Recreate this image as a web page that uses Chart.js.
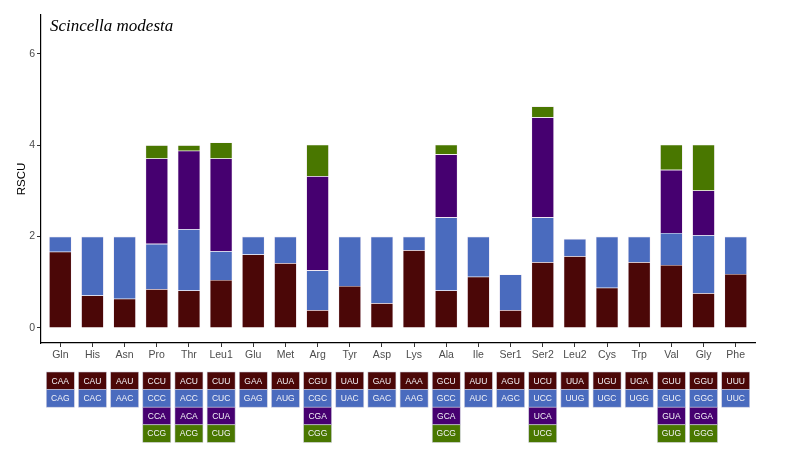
<!DOCTYPE html>
<html>
<head>
<meta charset="utf-8">
<script src="https://cdn.jsdelivr.net/npm/chart.js@4/dist/chart.umd.min.js"></script>
<style>
html,body{margin:0;padding:0;background:#fff;}
#wrap{position:relative;width:789px;height:454px;}
</style>
</head>
<body>
<div id="wrap"><canvas id="c" width="789" height="454"></canvas></div>
<script>
const categories = ["Gln","His","Asn","Pro","Thr","Leu1","Glu","Met","Arg","Tyr","Asp","Lys","Ala","Ile","Ser1","Ser2","Leu2","Cys","Trp","Val","Gly","Phe"];
const codon1 = [1.67,0.71,0.64,0.85,0.82,1.05,1.61,1.42,0.39,0.92,0.54,1.70,0.82,1.12,0.39,1.44,1.57,0.88,1.44,1.38,0.76,1.18];
const codon2 = [0.33,1.29,1.36,0.99,1.34,0.63,0.39,0.58,0.87,1.08,1.46,0.30,1.60,0.88,0.78,0.98,0.38,1.12,0.56,0.70,1.27,0.82];
const codon3 = [null,null,null,1.87,1.72,2.03,null,null,2.06,null,null,null,1.38,null,null,2.19,null,null,null,1.38,0.98,null];
const codon4 = [null,null,null,0.29,0.12,0.35,null,null,0.69,null,null,null,0.21,null,null,0.24,null,null,null,0.55,1.00,null];
const names1 = ["CAA","CAU","AAU","CCU","ACU","CUU","GAA","AUA","CGU","UAU","GAU","AAA","GCU","AUU","AGU","UCU","UUA","UGU","UGA","GUU","GGU","UUU"];
const names2 = ["CAG","CAC","AAC","CCC","ACC","CUC","GAG","AUG","CGC","UAC","GAC","AAG","GCC","AUC","AGC","UCC","UUG","UGC","UGG","GUC","GGC","UUC"];
const names3 = ["","","","CCA","ACA","CUA","","","CGA","","","","GCA","","","UCA","","","","GUA","GGA",""];
const names4 = ["","","","CCG","ACG","CUG","","","CGG","","","","GCG","","","UCG","","","","GUG","GGG",""];
const yTicks = [0,2,4,6];
const title = "Scincella modesta";

const colors = ["#4b0707","#4a6bbe","#460070","#497700"];
const seriesVals = [codon1, codon2, codon3, codon4];
const seriesNames = [names1, names2, names3, names4];
const narrow = '"Liberation Sans Narrow", "Arial Narrow", "Liberation Sans", Arial, sans-serif';

const toPts = arr => arr.map((v,i)=>({x:i,y:v}));

const codonTable = {
  id:'codonTable',
  afterDraw(chart){
    const ctx = chart.ctx;
    const xs = chart.scales.x;
    const boxW = 28, rowH = 17.6, top0 = 372;
    ctx.save();
    ctx.font = '8.5px ' + narrow;
    ctx.textAlign = 'center';
    ctx.textBaseline = 'middle';
    for (let r=0;r<4;r++){
      const names = seriesNames[r];
      for (let i=0;i<categories.length;i++){
        if (!names[i]) continue;
        const cx = xs.getPixelForValue(i);
        const y = top0 + r*rowH;
        ctx.fillStyle = colors[r];
        ctx.fillRect(cx-boxW/2, y, boxW, rowH);
        ctx.strokeStyle = 'rgba(210,210,225,0.9)';
        ctx.lineWidth = 0.6;
        ctx.strokeRect(cx-boxW/2, y, boxW, rowH);
        ctx.fillStyle = '#f4f4f8';
        ctx.fillText(names[i], cx, y+rowH/2+0.5);
      }
    }
    ctx.restore();
  }
};

const titlePlugin = {
  id:'titleText',
  afterDraw(chart){
    const ctx = chart.ctx, a = chart.chartArea;
    ctx.save();
    ctx.font = 'italic 17px "Liberation Serif", "Times New Roman", serif';
    ctx.fillStyle = '#000';
    ctx.textAlign = 'left';
    ctx.textBaseline = 'middle';
    ctx.fillText(title, a.left+9, a.top+12);
    ctx.restore();
  }
};

new Chart(document.getElementById('c'), {
  type:'bar',
  data:{
    datasets: seriesVals.map((vals,k)=>({
      label:'codon'+(k+1),
      data: toPts(vals),
      backgroundColor: colors[k],
      borderColor: 'rgba(235,220,235,0.8)',
      borderWidth: 0.6,
      barPercentage: 0.7,
      categoryPercentage: 1.0,
      stack:'s'
    }))
  },
  options:{
    responsive:false,
    animation:false,
    devicePixelRatio:1,
    layout:{padding:{top:15,right:34,left:0,bottom:0}},
    plugins:{legend:{display:false},tooltip:{enabled:false},title:{display:false}},
    scales:{
      x:{
        type:'linear',
        stacked:true,
        offset:false,
        min:-0.6, max:categories.length-1+0.6,
        afterBuildTicks(s){ s.ticks = categories.map((c,i)=>({value:i})); },
        afterFit(s){ s.height = 111; },
        grid:{offset:false, drawOnChartArea:false, drawTicks:true, tickLength:4, color:'#333', tickWidth:1},
        border:{display:true, color:'#000', width:1.2},
        ticks:{
          autoSkip:false, maxRotation:0, padding:2,
          color:'#4d4d4d',
          font:{family:narrow, size:10.5},
          callback:(v)=> categories[Math.round(v)] ?? ''
        }
      },
      y:{
        stacked:true,
        min:-0.33, max:6.85,
        afterBuildTicks(s){ s.ticks = yTicks.map(v=>({value:v})); },
        afterFit(s){ s.width = 41; },
        grid:{drawOnChartArea:false, drawTicks:true, tickLength:4, color:'#333'},
        border:{display:true, color:'#000', width:1.2},
        title:{display:true, text:'RSCU', color:'#000', font:{family:'"Liberation Sans", Arial, sans-serif', size:11.5}, padding:{top:15,bottom:0}},
        ticks:{
          color:'#4d4d4d', padding:2,
          font:{family:narrow, size:10.5}
        }
      }
    }
  },
  plugins:[codonTable, titlePlugin]
});
</script>
</body>
</html>
